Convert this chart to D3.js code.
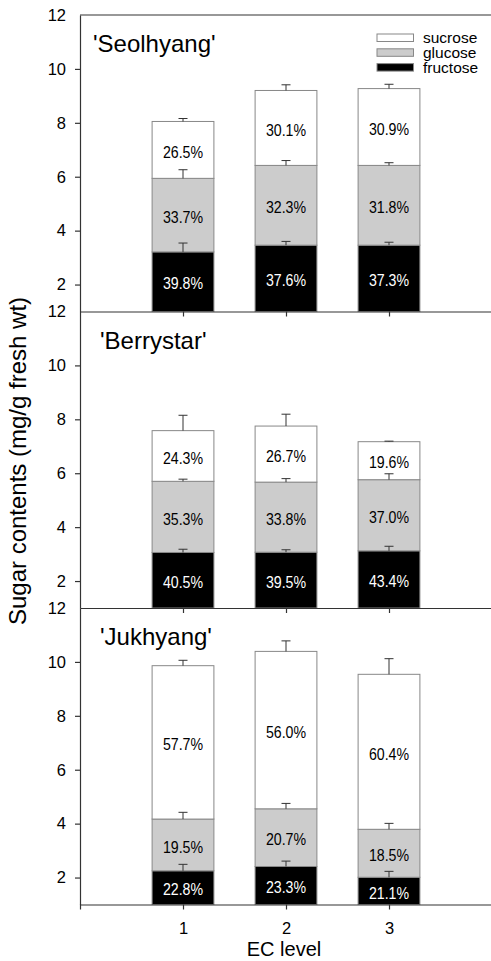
<!DOCTYPE html>
<html>
<head>
<meta charset="utf-8">
<script src="https://cdn.jsdelivr.net/npm/d3@7"></script>
<style>
    body { margin: 0; background: #fff; }
    svg text { font-family: "Liberation Sans", Arial, sans-serif; fill: #000; }
    .axis path, .axis line { stroke: #333; stroke-width: 1.2; }
    .axis text { font-size: 16.5px; }
</style>
</head>
<body>
<svg id="chart" width="491" height="961"></svg>
<script>
// datos (mg/g fresh wt), un array por azucar: [panel][EC level]
const cultivars = ["'Seolhyang'", "'Berrystar'", "'Jukhyang'"];
const ecLevels = [1, 2, 3];
const sugars = ["fructose", "glucose", "sucrose"];
const legendOrder = ["sucrose", "glucose", "fructose"];

const fructose = [[3.21, 3.46, 3.46], [3.06, 3.07, 3.12], [2.25, 2.41, 2.01]];
const glucose  = [[2.73, 2.96, 2.96], [2.64, 2.60, 2.64], [1.92, 2.14, 1.78]];
const sucrose  = [[2.11, 2.78, 2.85], [1.88, 2.08, 1.41], [5.69, 5.84, 5.75]];

const fructoseErr = [[0.33, 0.14, 0.11], [0.12, 0.09, 0.17], [0.24, 0.20, 0.22]];
const glucoseErr  = [[0.32, 0.18, 0.10], [0.08, 0.13, 0.22], [0.25, 0.20, 0.22]];
const sucroseErr  = [[0.11, 0.21, 0.16], [0.57, 0.44, 0.02], [0.20, 0.39, 0.58]];

const fructosePct = [["39.8%", "37.6%", "37.3%"], ["40.5%", "39.5%", "43.4%"], ["22.8%", "23.3%", "21.1%"]];
const glucosePct  = [["33.7%", "32.3%", "31.8%"], ["35.3%", "33.8%", "37.0%"], ["19.5%", "20.7%", "18.5%"]];
const sucrosePct  = [["26.5%", "30.1%", "30.9%"], ["24.3%", "26.7%", "19.6%"], ["57.7%", "56.0%", "60.4%"]];

const yTicks = [2, 4, 6, 8, 10, 12];

const values = { fructose, glucose, sucrose };
const errors = { fructose: fructoseErr, glucose: glucoseErr, sucrose: sucroseErr };
const pcts = { fructose: fructosePct, glucose: glucosePct, sucrose: sucrosePct };
const fills = { fructose: "#000000", glucose: "#cccccc", sucrose: "#ffffff" };
const textFill = { fructose: "#ffffff", glucose: "#000000", sucrose: "#000000" };

const svg = d3.select('#chart');
const margin = { top: 15, left: 80 };
const panelH = 296.5;
const titleX = [93, 100, 100];

const x = d3.scaleLinear().domain([0, 4]).range([margin.left, 492]);
const barW = x(0.3) - x(0);

cultivars.forEach((name, p) => {
    const top = margin.top + p * panelH;
    const y = d3.scaleLinear().domain([1, 12]).range([top + panelH, top]);
    const g = svg.append('g').attr('class', 'panel');

    const rows = ecLevels.map((ec, i) => {
        const r = { ec, i };
        sugars.forEach(s => { r[s] = values[s][p][i]; });
        return r;
    });
    const series = d3.stack().keys(sugars)(rows);

    // barras apiladas
    series.forEach(s => {
        g.selectAll('.bar-' + s.key)
            .data(s)
            .enter()
            .append('rect')
            .attr('x', d => x(d.data.ec) - barW)
            .attr('y', d => y(d[1]))
            .attr('width', barW * 2)
            .attr('height', d => y(Math.max(d[0], 1)) - y(d[1]))
            .attr('fill', fills[s.key])
            .attr('stroke', '#888')
            .attr('stroke-width', 1);
    });

    // barras de error
    series.forEach(s => {
        const eg = g.selectAll('.err-' + s.key)
            .data(s)
            .enter()
            .append('g');
        eg.append('line')
            .attr('x1', d => x(d.data.ec))
            .attr('x2', d => x(d.data.ec))
            .attr('y1', d => y(d[1]))
            .attr('y2', d => y(d[1] + errors[s.key][p][d.data.i]))
            .attr('stroke', '#333');
        eg.append('line')
            .attr('x1', d => x(d.data.ec) - 4.5)
            .attr('x2', d => x(d.data.ec) + 4.5)
            .attr('y1', d => y(d[1] + errors[s.key][p][d.data.i]))
            .attr('y2', d => y(d[1] + errors[s.key][p][d.data.i]))
            .attr('stroke', '#333');
    });

    // porcentajes
    series.forEach(s => {
        g.selectAll('.pct-' + s.key)
            .data(s)
            .enter()
            .append('text')
            .attr('transform', d => {
                const cy = (y(d[1]) + y(Math.max(d[0], 1))) / 2 + 2;
                return 'translate(' + x(d.data.ec) + ',' + cy + ') scale(0.86,1)';
            })
            .attr('text-anchor', 'middle')
            .attr('dy', '0.35em')
            .style('font-size', '16.5px')
            .style('fill', textFill[s.key])
            .text(d => pcts[s.key][p][d.data.i]);
    });

    // ejes
    const axisY = d3.axisLeft(y)
        .tickValues(yTicks)
        .tickSize(5)
        .tickSizeOuter(0)
        .tickPadding(9);
    const gy = g.append('g')
        .attr('class', 'axis axis-y')
        .attr('transform', 'translate(' + margin.left + ',0)')
        .call(axisY);
    gy.selectAll('.tick').filter(d => d === 12).select('line').remove();

    const last = p === cultivars.length - 1;
    const axisX = d3.axisBottom(x)
        .tickValues(last ? [0, 1, 2, 3] : [1, 2, 3])
        .tickSize(5)
        .tickSizeOuter(0)
        .tickPadding(13)
        .tickFormat(d => (last && d > 0) ? d : '');
    g.append('g')
        .attr('class', 'axis axis-x')
        .attr('transform', 'translate(0,' + (top + panelH) + ')')
        .call(axisX);

    if (p === 0) {
        g.append('line')
            .attr('x1', margin.left).attr('x2', 492)
            .attr('y1', top).attr('y2', top)
            .attr('stroke', '#333').attr('stroke-width', 1.2);
    }

    g.append('text')
        .attr('x', titleX[p])
        .attr('y', top + 37)
        .style('font-size', '24px')
        .text(name);
});

// leyenda
const legend = svg.append('g').attr('transform', 'translate(377,34)');
legend.selectAll('rect')
    .data(legendOrder)
    .enter()
    .append('rect')
    .attr('x', 0)
    .attr('y', (d, i) => i * 14.8)
    .attr('width', 36.5)
    .attr('height', 7.5)
    .attr('fill', d => fills[d])
    .attr('stroke', '#888');
legend.selectAll('text')
    .data(legendOrder)
    .enter()
    .append('text')
    .attr('x', 46)
    .attr('y', (d, i) => i * 14.8 + 9)
    .style('font-size', '15.5px')
    .text(d => d);

// titulos de ejes
svg.append('text')
    .attr('transform', 'translate(26,461) rotate(-90)')
    .attr('text-anchor', 'middle')
    .style('font-size', '24px')
    .text('Sugar contents (mg/g fresh wt)');

svg.append('text')
    .attr('x', 284)
    .attr('y', 956)
    .attr('text-anchor', 'middle')
    .style('font-size', '20px')
    .text('EC level');
</script>
</body>
</html>
